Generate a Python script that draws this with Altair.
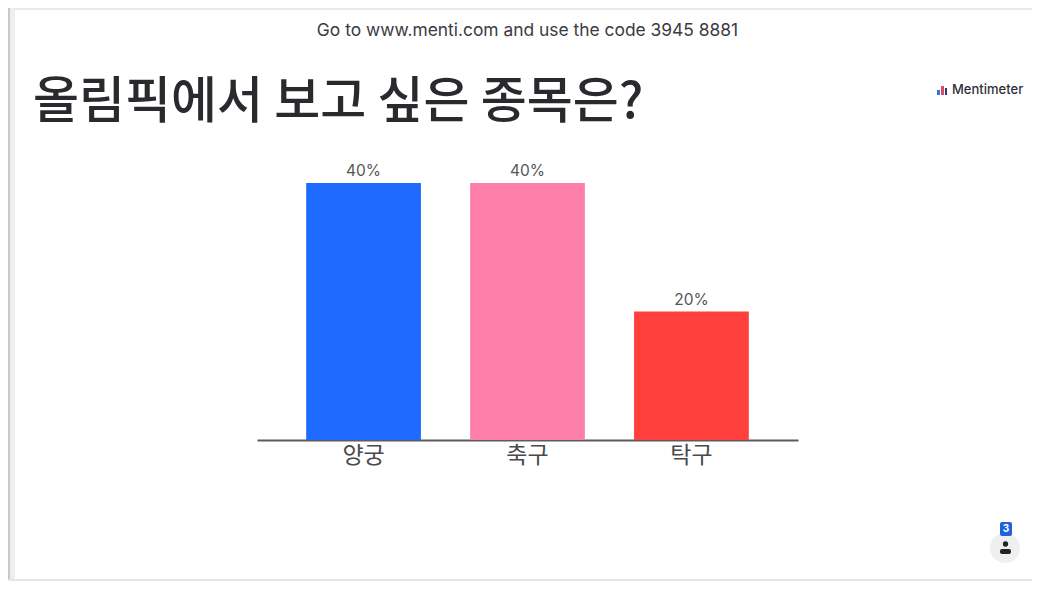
import altair as alt
import pandas as pd

categories = ["양궁", "축구", "탁구"]
percents = [40, 40, 20]
labels = ["40%", "40%", "20%"]
bar_colors = ["#1F6BFF", "#FF7FAB", "#FF403D"]

title_text = "올림픽에서 보고 싶은 종목은?"
header_text = "Go to www.menti.com and use the code 3945 8881"
brand_text = "Mentimeter"
badge_text = "3"

KR = "Noto Sans CJK KR"
LAT = "Inter"

# page offsets: view origin is at page (257, 183)
OX, OY = 257, 183
def px(v):
    return alt.value(v - OX)
def py(v):
    return alt.value(v - OY)

df = pd.DataFrame({"cat": categories, "pct": percents, "label": labels})
one = alt.Data(values=[{"a": 1}])

x = alt.X("cat:N", sort=categories, title=None,
          scale=alt.Scale(domain=categories, paddingInner=0.3, paddingOuter=0.3),
          axis=alt.Axis(labelAngle=0, labelFontSize=23, labelFont=KR, labelColor="#4a4a4a",
                        labelPadding=4, ticks=False, grid=False, domainColor="#5c5c5c", domainWidth=2))
y = alt.Y("pct:Q", title=None, axis=None, scale=alt.Scale(domain=[0, 40], nice=False))

bars = alt.Chart(df).mark_bar().encode(
    x=x, y=y,
    color=alt.Color("cat:N", legend=None, scale=alt.Scale(domain=categories, range=bar_colors)))
vals = alt.Chart(df).mark_text(dy=-12, fontSize=15.5, font=LAT, color="#555555").encode(
    x=x, y=y, text="label:N")

def box(x1, x2, y1, y2, color, **kw):
    return alt.Chart(one).mark_rect(color=color, **kw).encode(
        x=px(x1), x2=px(x2), y=py(y1), y2=py(y2))

def txt(s, xp, yp, size, font, color, align="left", weight="normal"):
    return alt.Chart(one).mark_text(text=s, fontSize=size, font=font, color=color,
                                    align=align, baseline="middle", fontWeight=weight).encode(
        x=px(xp), y=py(yp))

# The chart may span page x 8..1032, y 8..581 without making the page scroll.
frame = [
    box(8, 1032, 8, 10, "#e9e9eb"),
    box(8, 10, 8, 581, "#c9c9cb"),
    box(10, 15, 8, 581, "#eeeef0"),
    box(8, 1032, 579, 581, "#e6e6e8"),
]

header = txt(header_text, 527.5, 31, 17.4, LAT, "#3b3b42", "center")
title = txt(title_text, 33, 103, 50, KR, "#2a2a2e", "left", 500)
brand = txt(brand_text, 952, 90, 13, LAT, "#2f2f3a", "left", 500)
logo = [
    box(937, 940, 90, 95, "#3d6fe0"),
    box(941, 944, 86, 95, "#e0486a"),
    box(945, 947, 88, 95, "#2a3a80"),
]
person_bg = alt.Chart(one).mark_point(filled=True, shape="circle", size=900, color="#efefef", opacity=1).encode(
    x=px(1005), y=py(548))
badge = alt.Chart(one).mark_rect(color="#1f62e0", cornerRadius=2).encode(
    x=px(1000), x2=px(1012), y=py(522), y2=py(536))
badge_t = txt(badge_text, 1006, 529, 10, LAT, "#ffffff", "center", "bold")
head = alt.Chart(one).mark_point(filled=True, shape="circle", size=28, color="#222228", opacity=1).encode(
    x=px(1005.5), y=py(544))
body = box(1000, 1011, 549, 554, "#222228", cornerRadius=2)

chart = alt.layer(
    *frame, bars, vals, header, title, brand, *logo, person_bg, badge, badge_t, head, body
).properties(
    width=541, height=257,
    padding={"left": OX - 8, "top": OY - 8, "right": 1032 - OX - 541, "bottom": 581 - OY - 257},
    autosize=alt.AutoSizeParams(type="none"),
    background="white",
).configure_view(stroke=None)

chart.save("out.html", embed_options={"renderer": "svg", "actions": False})
